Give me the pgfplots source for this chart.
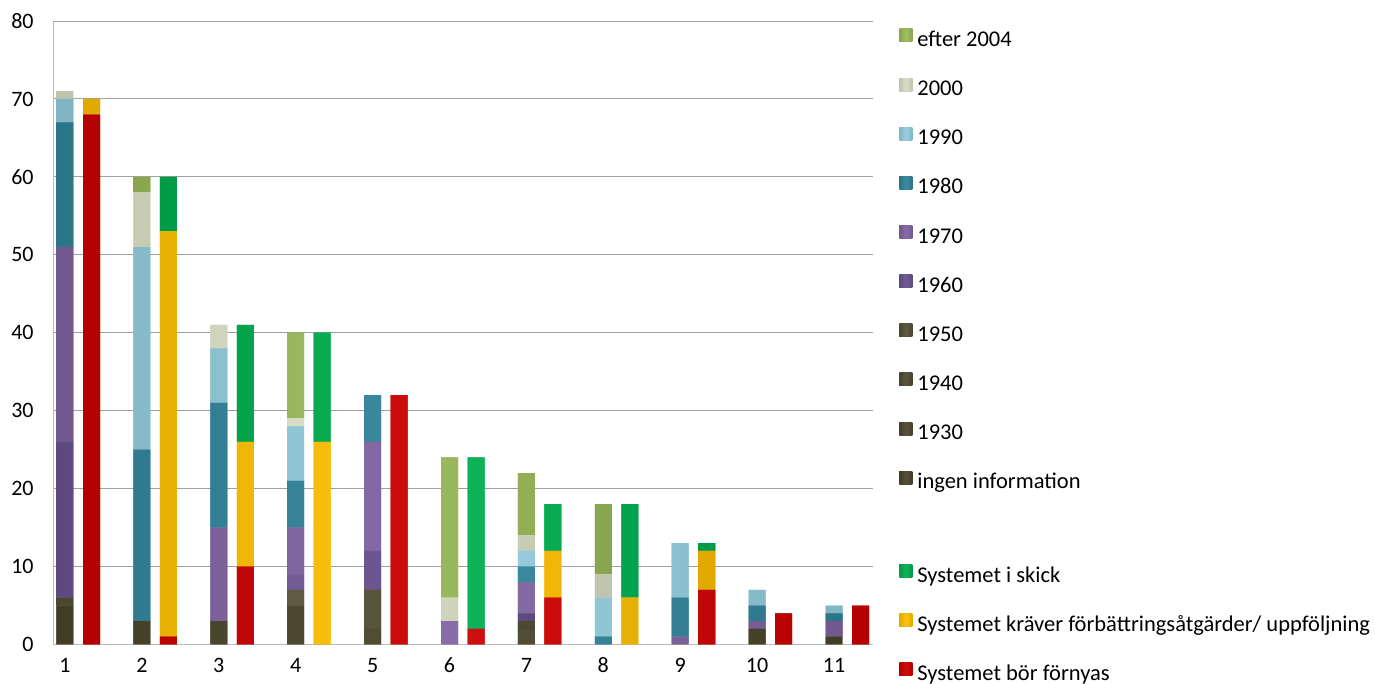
\documentclass[border=0pt]{standalone}
\usepackage{fontspec}
\setmainfont{Carlito}
\usepackage{pgfplots}
\pgfplotsset{compat=1.18}
\usepackage{pgfplotstable}

% decade colours
\definecolor{cIngen}{HTML}{4A452A}
\definecolor{cA}{HTML}{4D4830}
\definecolor{cB}{HTML}{514B33}
\definecolor{cC}{HTML}{555036}
\definecolor{cD}{HTML}{6A5290}
\definecolor{cE}{HTML}{8064A2}
\definecolor{cF}{HTML}{31859C}
\definecolor{cG}{HTML}{93CDDD}
\definecolor{cH}{HTML}{D8DEC4}
\definecolor{cI}{HTML}{9BBB59}
% condition colours
\definecolor{cRed}{HTML}{CC0000}
\definecolor{cYel}{HTML}{FFC000}
\definecolor{cGrn}{HTML}{00B050}

% number of systems per construction decade
\pgfplotstableread{
x  ingen d1930 d1940 d1950 d1960 d1970 d1980 d1990 d2000 efter
1  5     0     0     1     20    25    16    3     1     0
2  3     0     0     0     0     0     22    26    7     2
3  3     0     0     0     0     12    16    7     3     0
4  5     0     0     2     2     6     6     7     1     11
5  2     0     0     5     5     14    6     0     0     0
6  0     0     0     0     0     3     0     0     3     18
7  2     0     0     1     1     4     2     2     2     8
8  0     0     0     0     0     0     1     5     3     9
9  0     0     0     0     0     1     5     7     0     0
10 2     0     0     0     0     1     2     2     0     0
11 1     0     0     0     0     2     1     1     0     0
}\decades

% number of systems per condition
\pgfplotstableread{
x  fornyas krav skick
1  68      2    0
2  1       52   7
3  10      16   15
4  0       26   14
5  32      0    0
6  2       0    22
7  6       6    6
8  0       6    12
9  7       5    1
10 4       0    0
11 5       0    0
}\skick

\pgfplotsset{
  common/.style={
    scale only axis, width=410pt, height=311.75pt,
    xmin=0.844, xmax=11.507, ymin=0, ymax=80,
    ybar stacked, bar width=8.5pt, bar shift=0pt,
    legend image code/.code={\fill[##1] (0pt,-0.2pt) rectangle (6.5pt,6.3pt);},
    legend cell align=left, reverse legend,
    legend style={anchor=north west, draw=none, fill=none, inner sep=0pt,
      font=\fontsize{11.25}{13}\selectfont, row sep=12.77pt, column sep=2.5pt,
      nodes={inner sep=0pt, text height=8pt, text depth=3pt}},
  },
  seg/.style={draw=none, fill=#1, left color=#1!88!black,
    right color=#1!88!black, middle color=#1!94!white},
}

\begin{document}
\begin{tikzpicture}
\path[use as bounding box] (-26.5pt,-19.75pt) rectangle (661pt,322.25pt);

\begin{axis}[common,
  axis lines*=left, axis line style={gray!55},
  ymajorgrids, grid style={gray!75, line width=0.5pt},
  major tick length=0pt,
  ytick={0,10,...,80}, xtick={1,...,11},
  tick label style={font=\fontsize{11}{13}\selectfont,
    /pgf/number format/assume math mode=true},
  yticklabel style={inner sep=0pt, xshift=-9.5pt},
  xticklabel style={inner sep=0pt, yshift=-6.5pt},
  legend style={at={(1.0317,0.988)}},
]
\addplot[seg=cIngen] table[x=x, y=ingen] {\decades};
\addlegendentry{ingen information}
\addplot[seg=cA] table[x=x, y=d1930] {\decades};
\addlegendentry{1930}
\addplot[seg=cB] table[x=x, y=d1940] {\decades};
\addlegendentry{1940}
\addplot[seg=cC] table[x=x, y=d1950] {\decades};
\addlegendentry{1950}
\addplot[seg=cD] table[x=x, y=d1960] {\decades};
\addlegendentry{1960}
\addplot[seg=cE] table[x=x, y=d1970] {\decades};
\addlegendentry{1970}
\addplot[seg=cF] table[x=x, y=d1980] {\decades};
\addlegendentry{1980}
\addplot[seg=cG] table[x=x, y=d1990] {\decades};
\addlegendentry{1990}
\addplot[seg=cH] table[x=x, y=d2000] {\decades};
\addlegendentry{2000}
\addplot[seg=cI] table[x=x, y=efter] {\decades};
\addlegendentry{efter 2004}
\end{axis}

\begin{axis}[common, hide axis,
  legend style={at={(1.0317,0.1290)}},
]
\addplot[seg=cRed] table[x expr=\thisrow{x}+0.345, y=fornyas] {\skick};
\addlegendentry{Systemet bör förnyas}
\addplot[seg=cYel] table[x expr=\thisrow{x}+0.345, y=krav] {\skick};
\addlegendentry{Systemet kräver förbättringsåtgärder/ uppföljning}
\addplot[seg=cGrn] table[x expr=\thisrow{x}+0.345, y=skick] {\skick};
\addlegendentry{Systemet i skick}
\end{axis}
\end{tikzpicture}
\end{document}
